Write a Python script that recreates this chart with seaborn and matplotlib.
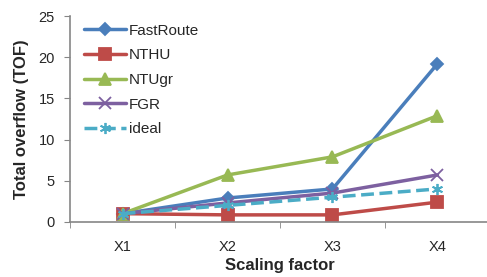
import pandas as pd
import numpy as np
import seaborn as sns
import matplotlib.pyplot as plt

factors = ["X1", "X2", "X3", "X4"]
fastroute = [1.0, 2.9, 4.0, 19.2]
nthu = [1.0, 0.85, 0.85, 2.4]
ntugr = [1.0, 5.7, 7.9, 12.9]
fgr = [1.0, 2.3, 3.5, 5.7]
ideal = [1.0, 2.0, 3.0, 4.0]

names = ["FastRoute", "NTHU", "NTUgr", "FGR", "ideal"]
series = [fastroute, nthu, ntugr, fgr, ideal]
colors = ["#4A7EBB", "#BE4B48", "#98B954", "#7D60A0", "#4BACC6"]
markers = ["D", "s", "^", "x", (6, 2, 0)]
msizes = [6, 8, 8, 8, 8]

df = pd.DataFrame({
    "router": np.repeat(names, len(factors)),
    "pos": np.tile(np.arange(1, len(factors) + 1), len(names)),
    "tof": np.concatenate(series),
})

sns.set_style("ticks")
plt.rcParams["font.family"] = ["Liberation Sans", "DejaVu Sans"]

fig = plt.figure(figsize=(4.87, 2.77), dpi=100)
ax = fig.add_axes([0.144, 0.199, 0.862, 0.743])

for name, col, mk, ms in zip(names, colors, markers, msizes):
    d = df[df.router == name]
    sns.lineplot(data=d, x="pos", y="tof", ax=ax, color=col, marker=mk,
                 markersize=ms, markeredgecolor=col, markeredgewidth=1.3,
                 linewidth=2.5, linestyle="--" if name == "ideal" else "-",
                 label=name)

ax.set_xlim(0.5, 4.5)
ax.set_ylim(0, 25)
ax.set_yticks([0, 5, 10, 15, 20, 25])
ax.set_xticks([1, 2, 3, 4])
ax.set_xticklabels(factors)
ax.set_xticks([0.5, 1.5, 2.5, 3.5, 4.5], minor=True)
ax.tick_params(axis="x", which="major", length=0, pad=13, labelsize=10.5)
ax.tick_params(axis="x", which="minor", length=4, color="#868686")
ax.tick_params(axis="y", length=4, color="#868686", labelsize=10.5, pad=7)

for s in ["top", "right"]:
    ax.spines[s].set_visible(False)
for s in ["left", "bottom"]:
    ax.spines[s].set_color("#868686")
    ax.spines[s].set_linewidth(1.2)

ax.set_xlabel("Scaling factor", fontsize=12, fontweight="bold", labelpad=3)
ax.set_ylabel("Total overflow (TOF)", fontsize=12, fontweight="bold", labelpad=7)

leg = ax.legend(loc="upper left", bbox_to_anchor=(76 / 487, 1 - 16 / 277),
                bbox_transform=fig.transFigure, borderpad=0, frameon=False,
                fontsize=11, handlelength=2.75, labelspacing=0.7,
                handletextpad=0.2)

fig.savefig("out.png", dpi=100)
